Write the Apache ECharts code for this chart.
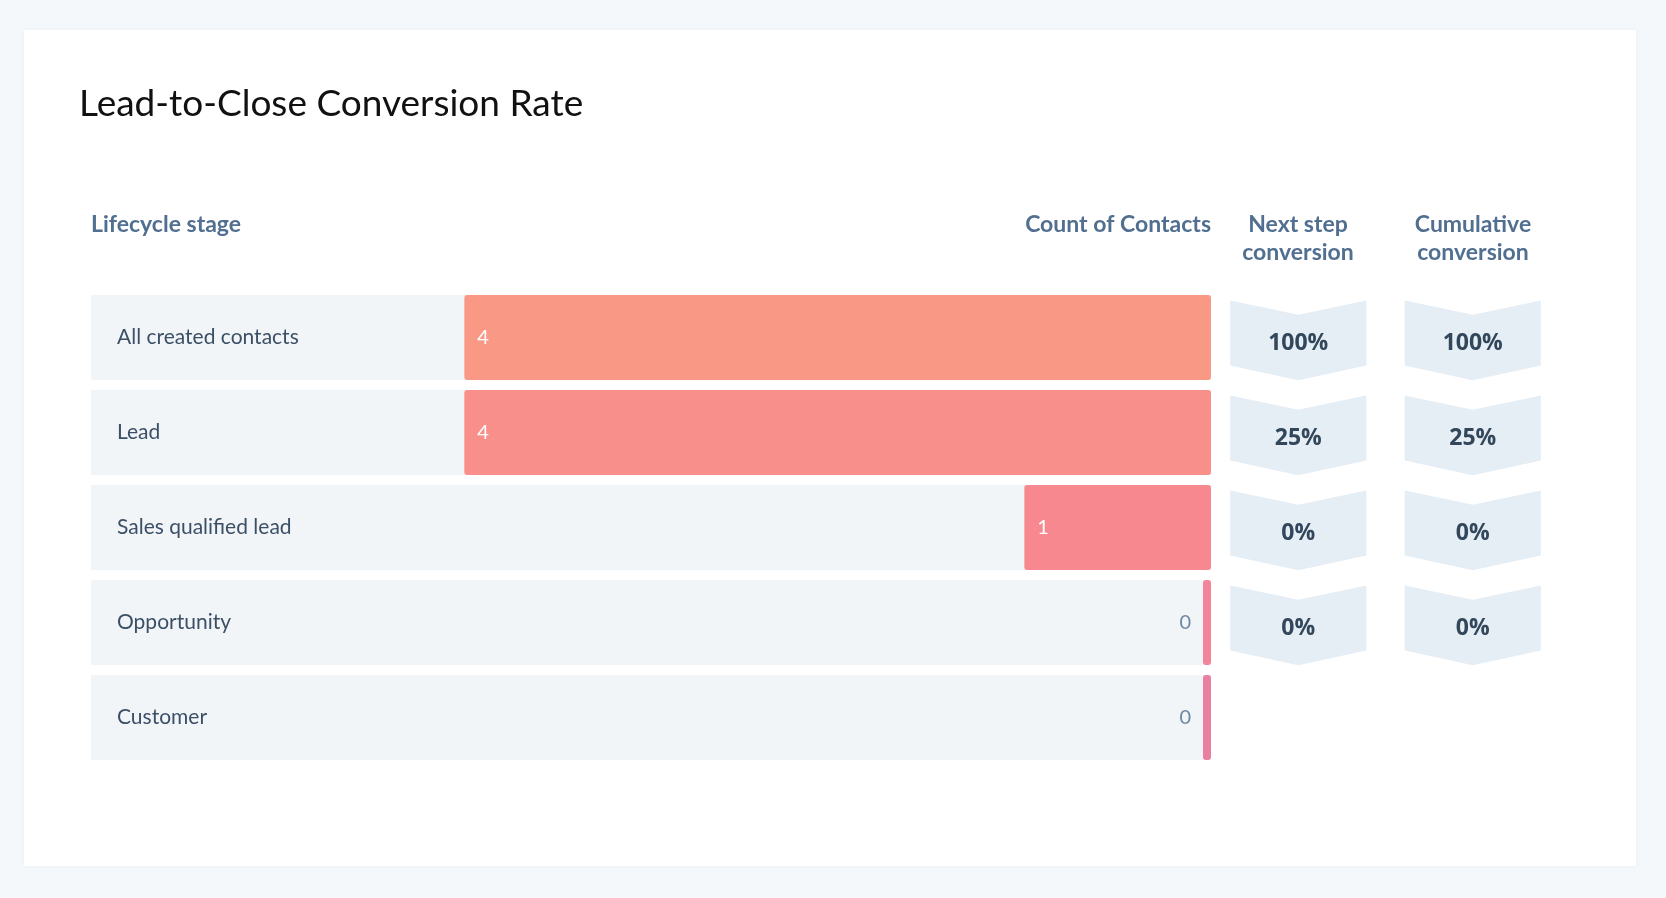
<!DOCTYPE html>
<html>
<head>
<meta charset="utf-8">
<script src="https://cdn.jsdelivr.net/npm/echarts@6/dist/echarts.min.js"></script>
<style>
html,body{margin:0;padding:0;background:#f5f8fa;}
#main{width:1666px;height:898px;}
</style>
</head>
<body>
<div id="main"></div>
<script>
/*------------数据-------------*/
var stages = ['All created contacts', 'Lead', 'Sales qualified lead', 'Opportunity', 'Customer'];
var counts = [4, 4, 1, 0, 0];
var nextStep = [100, 25, 0, 0];
var cumulative = [100, 25, 0, 0];
var convColumns = ['Next step conversion', 'Cumulative conversion'];
var barColors = ['#f99985', '#f88f8a', '#f7888f', '#f4849a', '#ea80a1'];

var FONT = 'Lato, "Open Sans", sans-serif';
var MIN_BAR = 8;   // 0 值也画一条细条

var countData = counts.map(function (v, i) { return [v, i]; });

var convData = [];
nextStep.forEach(function (v, i) { convData.push([0, i, v]); });
cumulative.forEach(function (v, i) { convData.push([1, i, v]); });

/*------------计数条(右对齐)-------------*/
function renderCount(params, api) {
	var v = api.value(0), row = api.value(1);
	var cs = params.coordSys;
	var base = api.coord([0, row]);
	var end = api.coord([v, row]);
	var h = api.size([0, 1])[1] * 0.896;
	var y = base[1] - h / 2;
	var right = base[0];
	var left = Math.min(end[0], right - MIN_BAR);
	return {
		type: 'group',
		children: [{
			type: 'rect',
			shape: { x: cs.x, y: y, width: cs.width, height: h },
			style: { fill: '#f2f5f8' }
		}, {
			type: 'rect',
			shape: { x: left, y: y, width: right - left, height: h, r: 3 },
			style: { fill: barColors[params.dataIndex] }
		}, {
			type: 'text',
			style: {
				text: String(v),
				x: v > 0 ? left + 13 : left - 12,
				y: base[1],
				align: v > 0 ? 'left' : 'right',
				verticalAlign: 'middle',
				font: '20px ' + FONT,
				fill: v > 0 ? '#ffffff' : '#6f88a4'
			}
		}]
	};
}

/*------------人字形格子-------------*/
function renderChevron(params, api) {
	var c = api.coord([api.value(0), api.value(1)]);
	var w = api.size([1, 0])[0] * 0.78;
	var h = api.size([0, 1])[1];
	var l = c[0] - w / 2, r = c[0] + w / 2;
	var top = c[1] - h * 0.39, notch = c[1] - h * 0.24;
	var bot = c[1] + h * 0.295, tip = c[1] + h * 0.45;
	return {
		type: 'group',
		children: [{
			type: 'polygon',
			shape: { points: [[l, top], [c[0], notch], [r, top], [r, bot], [c[0], tip], [l, bot]] },
			style: { fill: '#e5edf5' }
		}, {
			type: 'text',
			style: {
				text: api.value(2) + '%',
				x: c[0],
				y: c[1] + h * 0.06,
				align: 'center',
				verticalAlign: 'middle',
				font: 'bold 23px "Open Sans", sans-serif',
				fill: '#33475b'
			}
		}]
	};
}

var headerStyle = { fill: '#516f90', font: 'bold 23px ' + FONT, lineHeight: 27.6 };

var chart = echarts.init(document.getElementById('main'));
var option = {
	backgroundColor: '#f5f8fa',
	animation: false,
	title: {
		text: 'Lead-to-Close Conversion Rate',
		left: 74,
		top: 81,
		textStyle: { fontFamily: FONT, fontSize: 37, fontWeight: 'normal', color: '#111111' }
	},
	graphic: [{
		type: 'rect', left: 24, top: 30, z: -10,
		shape: { width: 1612, height: 836 },
		style: { fill: '#ffffff', shadowBlur: 6, shadowColor: 'rgba(0,0,0,0.04)' }
	}, {
		type: 'text', x: 91, y: 211,
		style: Object.assign({ text: 'Lifecycle stage' }, headerStyle)
	}, {
		type: 'text', x: 1211, y: 211,
		style: Object.assign({ text: 'Count of Contacts', align: 'right' }, headerStyle)
	}, {
		type: 'text', x: 1298, y: 211,
		style: Object.assign({ text: 'Next step\nconversion', align: 'center' }, headerStyle)
	}, {
		type: 'text', x: 1473, y: 211,
		style: Object.assign({ text: 'Cumulative\nconversion', align: 'center' }, headerStyle)
	}],
	grid: [
		{ left: 91, right: 455, top: 290, bottom: 133 },
		{ left: 1211, right: 106, top: 290, bottom: 133 }
	],
	xAxis: [{
		type: 'value', gridIndex: 0, min: 0, max: 6, inverse: true, show: false
	}, {
		type: 'category', gridIndex: 1, data: convColumns, show: false
	}],
	yAxis: [{
		type: 'category', gridIndex: 0, data: stages, inverse: true, z: 10,
		axisLine: { show: false }, axisTick: { show: false },
		axisLabel: { inside: true, margin: 26, color: '#3b4f66', fontFamily: FONT, fontSize: 21 }
	}, {
		type: 'category', gridIndex: 1, data: stages, inverse: true, show: false
	}],
	series: [{
		name: 'Count of Contacts',
		type: 'custom',
		xAxisIndex: 0, yAxisIndex: 0,
		renderItem: renderCount,
		encode: { x: 0, y: 1 },
		data: countData
	}, {
		name: 'Conversion',
		type: 'custom',
		xAxisIndex: 1, yAxisIndex: 1,
		renderItem: renderChevron,
		data: convData
	}]
};
chart.setOption(option);
</script>
</body>
</html>
